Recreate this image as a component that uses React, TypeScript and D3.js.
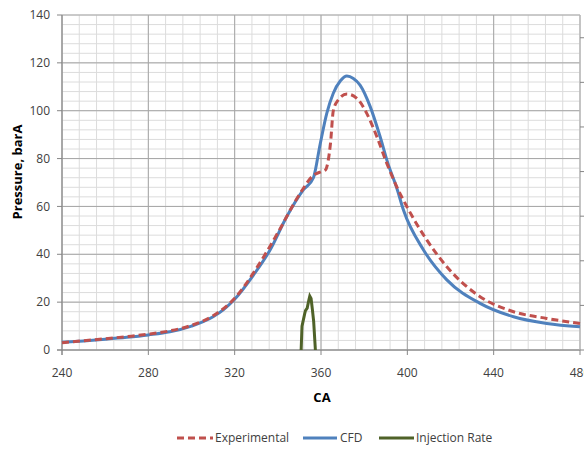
import React from "react";
import * as d3 from "d3";

const xTicks = [240, 280, 320, 360, 400, 440, 480];
const yTicks = [0, 20, 40, 60, 80, 100, 120, 140];
const secondaryTicks = [0, 1, 2, 3, 4, 5, 6, 7];

const cfdCA = [240, 250, 260, 270, 280, 290, 300, 310, 315, 320, 328.7, 336.4, 344.1, 351.8, 356.5, 359.6, 362.7, 365.7, 369, 372, 375, 378.1, 382.8, 387.4, 391, 395, 398.2, 407.5, 418.3, 433.7, 449.2, 464.6, 480];
const cfdP = [3.2, 3.8, 4.5, 5.3, 6.3, 7.6, 10.0, 13.9, 17, 21.2, 31.3, 41.8, 55.7, 66.9, 72, 86, 99, 107.3, 112.5, 114.5, 113.5, 110.7, 101.7, 89.1, 78, 68, 58.5, 41.8, 29.3, 19.5, 13.9, 11.1, 9.7];

const expCA = [240, 250, 260, 270, 280, 290, 300, 310, 320, 330, 340, 350, 356.5, 360, 362, 364.4, 365.7, 368, 372, 376.6, 381.2, 385.9, 390.5, 395.1, 399.8, 409, 418.3, 433.7, 449.2, 464.6, 480];
const expP = [3.0, 3.9, 4.7, 5.6, 6.6, 8, 10.3, 14.3, 21.6, 34, 49, 65, 73, 74.5, 75.2, 86.4, 100, 104.5, 107, 105.2, 98.9, 89.1, 78, 68.2, 59.9, 46, 34.8, 22.3, 16, 13.2, 11.1];

const injCA = [350.8, 351.2, 352.4, 352.8, 353.6, 354.4, 354.8, 355.4, 356, 356.6, 357.4];
const injRate = [0, 10, 15, 16.5, 17.5, 21, 22.5, 21.5, 17, 12, 0];

const W = 584, H = 451;
const L = 62, R = 580, T = 15, B = 350;

export default function App() {
  const x = d3.scaleLinear().domain([240, 480]).range([L, R]);
  const y = d3.scaleLinear().domain([0, 140]).range([B, T]);
  const y2 = d3.scaleLinear().domain([0, 7.51]).range([B, T]);

  const line = d3
    .line<[number, number]>()
    .x((d) => x(d[0]))
    .y((d) => y(d[1]))
    .curve(d3.curveMonotoneX);

  const cfd = cfdCA.map((c, i) => [c, cfdP[i]] as [number, number]);
  const exp = expCA.map((c, i) => [c, expP[i]] as [number, number]);
  const inj = injCA.map((c, i) => [c, injRate[i]] as [number, number]);
  const injLine = d3
    .line<[number, number]>()
    .x((d) => x(d[0]))
    .y((d) => y(d[1]));

  const minorX = d3.range(240, 481, 8);
  const minorY = d3.range(0, 141, 4);

  const font = "'Open Sans', 'Noto Sans', sans-serif";

  return (
    <svg width={W} height={H} style={{ position: "absolute", left: 0, top: 0 }}>
      <rect x={0} y={0} width={W} height={H} fill="#fff" />
      {minorX.map((v) => (
        <line key={"mx" + v} x1={x(v)} x2={x(v)} y1={T} y2={B} stroke="#dcdcdc" strokeWidth={1} />
      ))}
      {minorY.map((v) => (
        <line key={"my" + v} x1={L} x2={R} y1={y(v)} y2={y(v)} stroke="#dcdcdc" strokeWidth={1} />
      ))}
      {xTicks.map((v) => (
        <line key={"gx" + v} x1={x(v)} x2={x(v)} y1={T} y2={B} stroke="#a6a6a6" strokeWidth={1} />
      ))}
      {yTicks.map((v) => (
        <line key={"gy" + v} x1={L} x2={R} y1={y(v)} y2={y(v)} stroke="#a6a6a6" strokeWidth={1} />
      ))}
      <line x1={L} x2={L} y1={T} y2={B + 5} stroke="#868686" />
      <line x1={L - 5} x2={R} y1={B} y2={B} stroke="#868686" />
      <line x1={R} x2={R} y1={T} y2={B} stroke="#bfbfbf" />
      {yTicks.map((v) => (
        <line key={"ty" + v} x1={L - 5} x2={L} y1={y(v)} y2={y(v)} stroke="#868686" />
      ))}
      {xTicks.map((v) => (
        <line key={"tx" + v} x1={x(v)} x2={x(v)} y1={B} y2={B + 5} stroke="#868686" />
      ))}
      {secondaryTicks.map((v) => (
        <line key={"t2" + v} x1={R} x2={R + 5} y1={y2(v)} y2={y2(v)} stroke="#868686" />
      ))}
      {yTicks.map((v) => (
        <text key={"ly" + v} x={50} y={y(v)} dy="0.35em" textAnchor="end" fontFamily={font} fontSize={12} fill="#404040">
          {v}
        </text>
      ))}
      {xTicks.map((v) => (
        <text key={"lx" + v} x={x(v)} y={373} dy="0.35em" textAnchor="middle" fontFamily={font} fontSize={12} fill="#404040">
          {v}
        </text>
      ))}
      <text x={322} y={397} dy="0.35em" textAnchor="middle" fontFamily={font} fontSize={13} fontWeight="bold" fill="#000">
        CA
      </text>
      <text
        transform={`translate(17,172) rotate(-90)`}
        dy="0.35em"
        textAnchor="middle"
        fontFamily={font}
        fontSize={13}
        fontWeight="bold"
        fill="#000"
      >
        Pressure, barA
      </text>
      <path d={line(cfd) || ""} fill="none" stroke="#4F81BD" strokeWidth={3} />
      <path d={line(exp) || ""} fill="none" stroke="#C0504D" strokeWidth={3} strokeDasharray="7,4" />
      <path d={injLine(inj) || ""} fill="none" stroke="#4F6228" strokeWidth={3} />
      <g fontFamily={font} fontSize={12} fill="#404040">
        <line x1={177} x2={213} y1={438} y2={438} stroke="#C0504D" strokeWidth={3} strokeDasharray="7,4" />
        <text x={215} y={438} dy="0.35em">Experimental</text>
        <line x1={303} x2={337} y1={438} y2={438} stroke="#4F81BD" strokeWidth={3} />
        <text x={340} y={438} dy="0.35em">CFD</text>
        <line x1={379} x2={414} y1={438} y2={438} stroke="#4F6228" strokeWidth={3} />
        <text x={416} y={438} dy="0.35em">Injection Rate</text>
      </g>
    </svg>
  );
}
